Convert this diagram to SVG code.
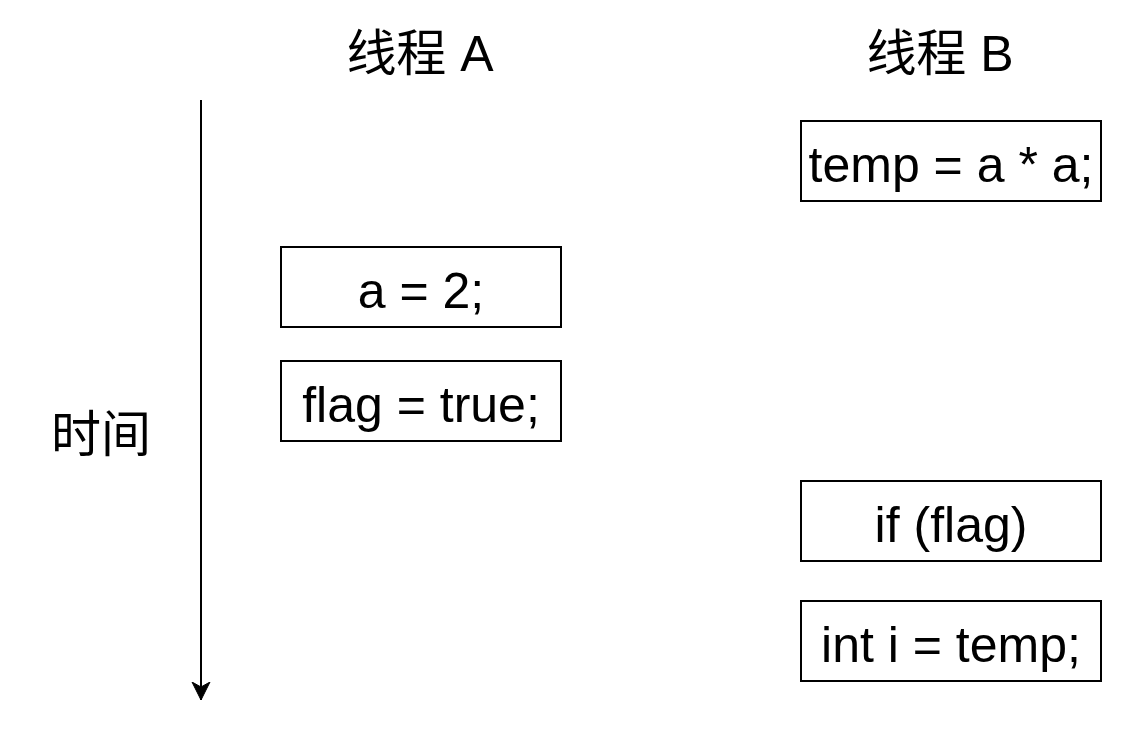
<svg xmlns="http://www.w3.org/2000/svg" width="1122" height="738" viewBox="0 0 1122 738">
<style>
.box{fill:#fff;stroke:#000;stroke-width:2}
.t{font-family:"Liberation Sans",Arial,"Noto Sans CJK SC",sans-serif;font-size:50px;fill:#000;text-anchor:middle}
.edge{stroke:#000;stroke-width:2;fill:none}
</style>
<defs>
<marker id="arr" viewBox="0 0 20 20" refX="18" refY="10" markerWidth="20" markerHeight="20" markerUnits="userSpaceOnUse" orient="auto">
<path d="M0,1 L18,10 L0,19 L5,10 Z" fill="#000" stroke="#000" stroke-width="1"/>
</marker>
</defs>
<rect width="1122" height="738" fill="#fff"/>
<g id="title-a"><text class="t" x="420" y="71">线程 A</text></g>
<g id="title-b"><text class="t" x="940" y="71">线程 B</text></g>
<g id="time-label"><text class="t" x="101" y="452">时间</text></g>
<g id="connectors">
<path class="edge" d="M201,100 L201,700" marker-end="url(#arr)"/>
</g>
<g id="a1"><rect class="box" x="281" y="247" width="280" height="80"/><text class="t" x="421" y="308">a = 2;</text></g>
<g id="a2"><rect class="box" x="281" y="361" width="280" height="80"/><text class="t" x="421" y="422">flag = true;</text></g>
<g id="b1"><rect class="box" x="801" y="121" width="300" height="80"/><text class="t" x="951" y="182">temp = a * a;</text></g>
<g id="b2"><rect class="box" x="801" y="481" width="300" height="80"/><text class="t" x="951" y="542">if (flag)</text></g>
<g id="b3"><rect class="box" x="801" y="601" width="300" height="80"/><text class="t" x="951" y="662">int i = temp;</text></g>
</svg>
